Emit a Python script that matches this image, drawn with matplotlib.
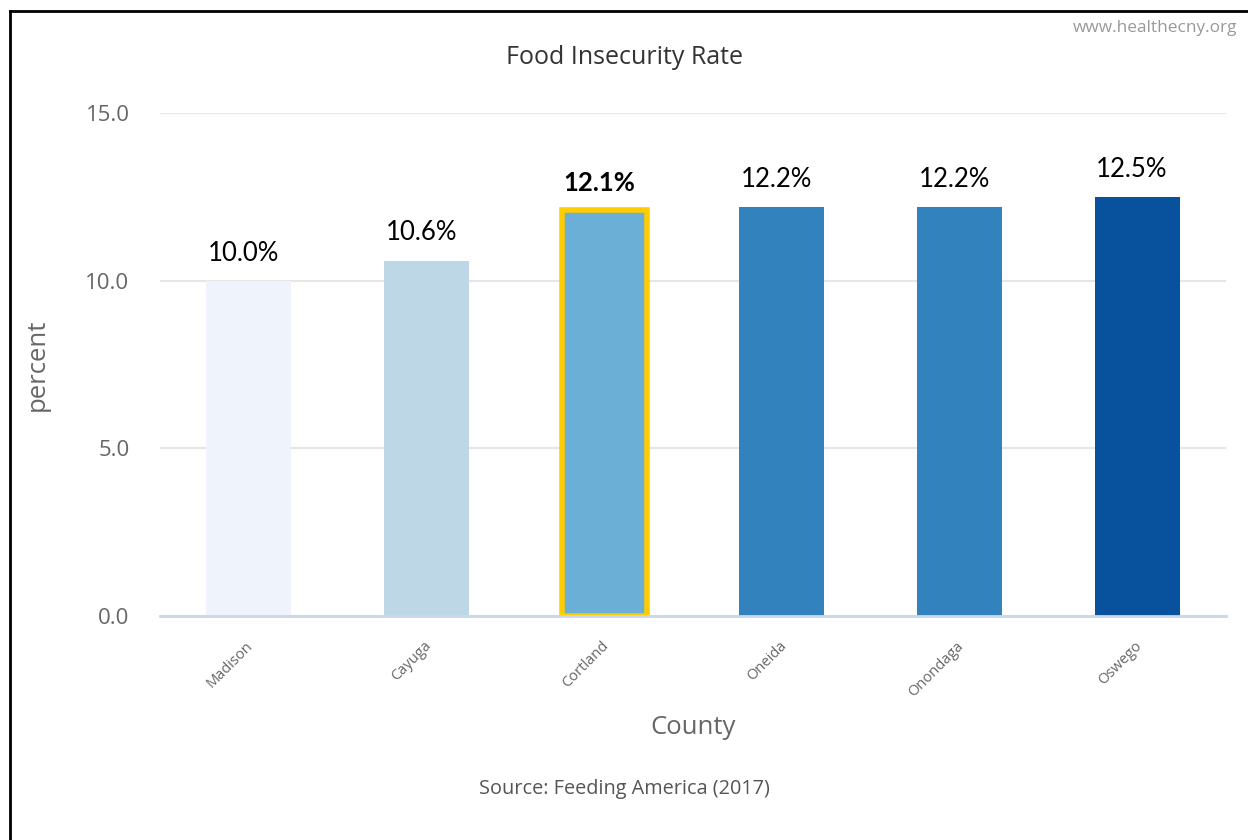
import matplotlib
matplotlib.use("Agg")
import matplotlib.pyplot as plt
from matplotlib.lines import Line2D

counties = ["Madison", "Cayuga", "Cortland", "Oneida", "Onondaga", "Oswego"]
values = [10.0, 10.6, 12.1, 12.2, 12.2, 12.5]
bar_colors = ["#EEF3FC", "#BDD7E7", "#6BAED6", "#3182BD", "#3182BD", "#08519C"]
highlight = "Cortland"
yticks = [0.0, 5.0, 10.0, 15.0]

fig = plt.figure(figsize=(12.48, 8.4), dpi=100)
ax = fig.add_axes([160/1248, 1-616/840, (1226-160)/1248, (616-113)/840])

x = list(range(len(counties)))
bars = ax.bar(x, values, width=0.48, color=bar_colors, zorder=3)
for b, c in zip(bars, counties):
    if c == highlight:
        b.set_edgecolor("#FFCC00")
        b.set_linewidth(4)

for xi, v, c in zip(x, values, counties):
    ax.text(xi - 0.03, v + 0.45, f"{v:.1f}%", ha="center", va="bottom",
            fontsize=18.5, family="Lato", color="black",
            fontweight="bold" if c == highlight else "normal", zorder=4)

ax.set_xlim(-0.5, len(counties) - 0.5)
ax.set_ylim(0, 15)
ax.set_yticks(yticks)
ax.set_yticklabels([f"{t:.1f}" for t in yticks], fontsize=16, color="#666666", family="Open Sans")
ax.grid(axis="y", color="#E6E6E6", linewidth=1.5, zorder=0)
ax.tick_params(axis="y", length=0, pad=22)
ax.tick_params(axis="x", length=0, pad=9)
ax.set_xticks(x)
ax.set_xticklabels(counties, rotation=45, ha="right", va="top", rotation_mode="anchor",
                   fontsize=10.5, color="#666666", family="Open Sans")
for lbl in ax.get_xticklabels():
    lbl.set_transform(lbl.get_transform() + matplotlib.transforms.ScaledTranslation(-0.03, -0.1, fig.dpi_scale_trans))
for s in ["top", "right", "left"]:
    ax.spines[s].set_visible(False)
ax.spines["bottom"].set_color("#CCD6EB")
ax.spines["bottom"].set_linewidth(2)
ax.spines["bottom"].set_zorder(5)

ax.set_ylabel("percent", fontsize=18.5, color="#666666", family="Open Sans")
ax.yaxis.set_label_coords(-110/1066, 0.5)
fig.text(693/1248, 1-728/840, "County", ha="center", va="center", fontsize=18.5,
         color="#666666", family="Open Sans")
fig.text(624/1248, 1-57/840, "Food Insecurity Rate", ha="center", va="center",
         fontsize=18, color="#333333", family="Open Sans")
fig.text(1237/1248, 1-28/840, "www.healthecny.org", ha="right", va="center",
         fontsize=12.4, color="#999999", family="Open Sans")
fig.text(624/1248, 1-789/840, "Source: Feeding America (2017)", ha="center", va="center",
         fontsize=14.3, color="#555555", family="Open Sans")

# outer frame (top and left edges)
fig.add_artist(Line2D([10/1248, 10/1248], [0, 1-11/840], transform=fig.transFigure,
                      color="black", linewidth=2))
fig.add_artist(Line2D([10/1248, 1], [1-11/840, 1-11/840], transform=fig.transFigure,
                      color="black", linewidth=2))

fig.savefig("out.png", dpi=100, facecolor="white")
